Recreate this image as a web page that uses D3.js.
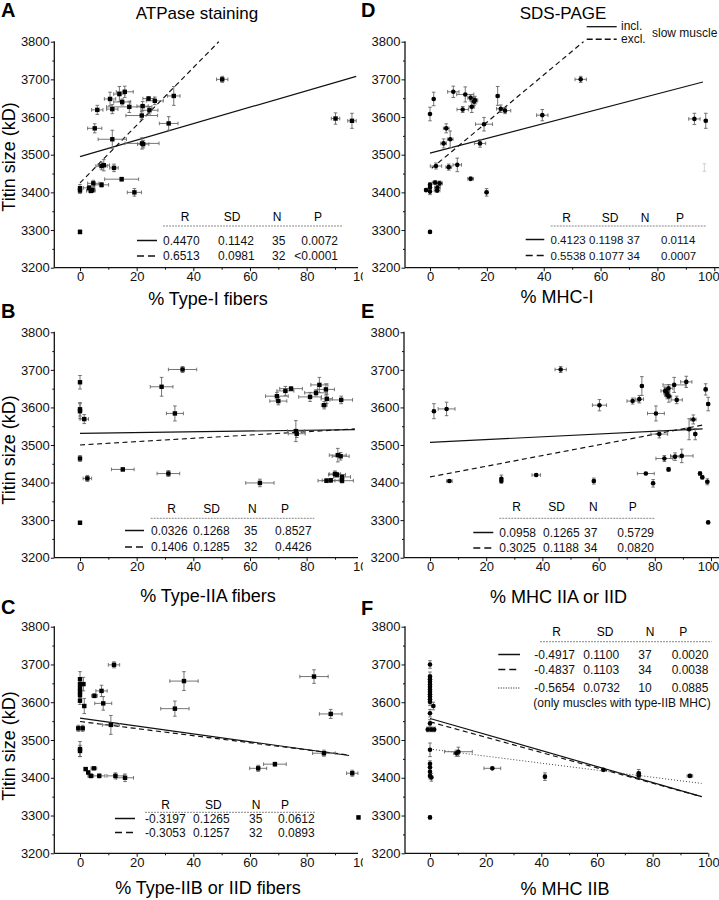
<!DOCTYPE html>
<html><head><meta charset="utf-8">
<script src="https://cdn.jsdelivr.net/npm/d3@7"></script>
<style>
body{margin:0;background:#fff}
svg{display:block}
text{font-family:"Liberation Sans",Arial,Helvetica,sans-serif}
</style>
</head><body>
<svg id="c" width="719" height="900"></svg>
<script>
// ---------- data ----------
const yTicks = [3200, 3300, 3400, 3500, 3600, 3700, 3800];
const yMinor = [3250, 3350, 3450, 3550, 3650, 3750];
const xTicks = [0, 20, 40, 60, 80, 100];
const xMinor = [10, 30, 50, 70, 90];
const statHeader = ["R", "SD", "N", "P"];

// points: [x, titin size, xErr, yErr]
const typeIFibers = [
  [0,3411,0,10],[0,3405,0,8],[0,3295,0,5],[3.2,3412,2,6],[3.8,3404,1.5,5],[4.3,3406,1,6],
  [4.7,3424,2,8],[7.6,3420,2.5,6],[7.6,3470,2,10],[8.4,3472,2,15],[12,3465,1.5,10],
  [14.7,3435,6,5],[19.2,3400,2.5,10],[5.2,3570,2.5,12],[6.1,3619,2,12],[11.4,3541,5,24],
  [10.6,3648,2,18],[11.4,3621,2,12],[13.9,3661,2,20],[14.9,3640,3,8],[15.8,3667,3,15],
  [17.4,3627,8,15],[21.8,3604,5.6,10],[22.1,3629,2,12],[21.9,3530,6,15],[22.3,3528,2,10],
  [24.2,3649,2,5],[24.5,3618,3,10],[26.4,3643,3,10],[31.3,3583,3.3,18],[33.1,3656,2.2,25],
  [50.2,3700,2,8],[90.2,3596,1.5,15],[96,3590,1.5,20]
];
const typeIIAFibers = [
  [0,3667,0,18],[0,3595,0,18],[0,3590,0,20],[1.5,3569,1.5,12],[0,3464,0,8],[2.6,3411,1.5,8],
  [0,3293,0,4],[15.1,3435,4,4],[31.2,3424,4,8],[28.8,3655,4,25],[36.2,3701,5,8],
  [33.5,3584,3,20],[63.5,3399,5,10],[69.5,3630,4,10],[70,3617,3,10],[72.5,3644,3,12],
  [74.5,3650,4,5],[81.2,3628,4,12],[84.5,3660,3,20],[83.3,3639,4,8],[86.8,3648,3,15],
  [87.1,3623,2,12],[86.2,3606,1,10],[92.2,3620,4,10],[76.2,3537,3,28],[76.5,3530,3,10],
  [91,3473,3,18],[92,3470,3,10],[87,3405,3,5],[88.5,3406,3,5],[90,3423,2,8],
  [90.7,3421,3,6],[92.5,3415,3,5],[92.5,3405,4,6]
];
const typeIIBFibers = [
  [0,3661,0,20],[0,3648,0,15],[0,3637,0,15],[0,3628,0,15],[0,3619,0,10],[1.2,3648,0.5,18],
  [0,3604,0,10],[1.5,3590,0.5,20],[-0.6,3531,0.5,8],[0.95,3531,0.5,8],[0,3476,0,20],
  [0,3471,0,15],[2,3423,0.5,4],[2.9,3414,0.5,4],[3.8,3405,1,5],[4.9,3425,1,3],
  [6.8,3405,2,5],[12.5,3405,3,8],[15.9,3400,3,10],[5.1,3617,1,5],[7.6,3630,2,15],
  [8.2,3597,3,18],[10.9,3540,3,25],[12,3699,2,8],[36.7,3656,5,25],[33.5,3583,5,20],
  [62.9,3425,3,8],[68.8,3436,4,5],[82.6,3668,5,18],[88.5,3569,4,12],[86.1,3465,4,8],
  [96.1,3412,2,8],[98.3,3295,0,4]
];
const mhcI = [
  [0,3608,0,18],[1.3,3648,0,18],[8.2,3667,2,15],[12.4,3660,3,20],[14.3,3651,1,8],
  [11.5,3620,2,8],[14.7,3627,1,15],[15.5,3641,1,10],[15.8,3645,1,10],[23.8,3656,0.5,25],
  [24.9,3622,1.5,10],[26.4,3617,2,8],[19,3581,3,18],[39.5,3605,2,15],[53,3700,2,8],
  [5.7,3570,1,12],[4.8,3530,1,12],[7.1,3541,1,22],[17.6,3530,2,10],[2.1,3470,2,8],
  [6.6,3467,1,8],[9.6,3473,1.5,18],[14.3,3436,1,5],[-1.4,3406,0,4],[0,3420,0,6],
  [0,3413,0,6],[0,3402,0,8],[1.8,3426,1,5],[2.6,3413,1,6],[3.4,3424,1,6],[2.5,3405,1,5],
  [19.9,3400,0.5,10],[0,3295,0,4],[93,3595,2,15],[97,3590,0.5,20]
];
const mhcIGhost = [[96.5,3466,0,10]];
const mhcIIAorIID = [
  [1.4,3590,0.5,20],[5.9,3596,3,18],[6.9,3404,1,4],[25.4,3410,0.3,10],[25.4,3404,0.3,6],
  [37.8,3420,1.5,4],[46.5,3701,2,8],[58.3,3404,0.5,8],[60.3,3606,2.5,15],[72.1,3617,2,8],
  [74.5,3622,1.5,10],[75.4,3657,0.5,25],[80.4,3584,3,20],[83.7,3644,1.5,10],[84.2,3640,1,10],
  [84.5,3633,1,10],[85,3629,1,15],[84.9,3651,1.5,10],[86.9,3660,4,20],[87.8,3620,2,10],
  [91.2,3668,2,15],[98.1,3648,0.5,15],[99,3609,0.5,18],[81.6,3529,3,10],[92.2,3542,1,28],
  [93.7,3568,1,12],[94.4,3529,0.5,15],[83.4,3464,3,8],[87.2,3469,1.5,10],[89.6,3471,4,18],
  [84.9,3435,0.5,5],[76.8,3424,3,3],[79.4,3398,0.5,10],[96.1,3424,0.5,5],[96.9,3414,0.5,5],
  [98.7,3402,0.5,8],[99,3294,0,3]
];
const mhcIIB = [
  [0,3700,0,10],[0,3668,0,12],[0,3661,0,12],[0,3654,0,12],[0,3647,0,12],[0,3641,0,12],
  [0,3634,0,12],[0,3628,0,12],[0,3621,0,12],[0,3615,0,12],[0,3608,0,12],[0,3601,0,10],
  [1.2,3590,0.5,10],[0,3571,0,10],[0,3544,0,10],[-0.8,3528,0,6],[0.4,3528,0,6],[1.5,3528,0,6],
  [0,3474,0,18],[0,3437,0,8],[0,3428,0,8],[0,3416,0,8],[0,3405,0,8],[0.5,3401,0,10],
  [0,3295,0,4],[10.2,3469,5,12],[9.5,3465,1,8],[22.4,3425,3,3],[41.3,3403,0.5,10],
  [62.3,3421,0.5,3],[75,3412,0.5,10],[75,3406,0.5,5],[93.4,3405,1,4]
];

// regression lines: [x0, y0, x1, y1]  (incl., excl., only IIB)
const fitsTypeI   = [[0,3495,97.5,3708],[0,3425,49,3800]];
const fitsTypeIIA = [[0,3531,97,3541],[0,3500,97,3543]];
const fitsTypeIIB = [[0,3558,95,3459],[0,3549,95,3460]];
const fitsMhcI    = [[0,3504,96,3693],[0.6,3464,54,3800]];
const fitsMhcIIA  = [[0,3507,97,3543],[0,3415,97,3553]];
const fitsMhcIIB  = [[0,3557,97.6,3350],[0,3548,97.6,3350],[0,3476,97.6,3385]];

// statistics tables
const statsTypeI   = [["0.4470","0.1142","35","0.0072"],["0.6513","0.0981","32","<0.0001"]];
const statsTypeIIA = [["0.0326","0.1268","35","0.8527"],["0.1406","0.1285","32","0.4426"]];
const statsTypeIIB = [["-0.3197","0.1265","35","0.0612"],["-0.3053","0.1257","32","0.0893"]];
const statsMhcI    = [["0.4123","0.1198","37","0.0114"],["0.5538","0.1077","34","0.0007"]];
const statsMhcIIA  = [["0.0958","0.1265","37","0.5729"],["0.3025","0.1188","34","0.0820"]];
const statsMhcIIB  = [["-0.4917","0.1100","37","0.0020"],["-0.4837","0.1103","34","0.0038"],["-0.5654","0.0732","10","0.0885"]];
const noteMhcIIB = "(only muscles with type-IIB MHC)";
const legendLabels = ["incl.", "excl.", "slow muscle"];

// ---------- drawing ----------
const svg = d3.select("#c");
const FONT = '"Liberation Sans",Arial,Helvetica,sans-serif';
const lineStyles = ["none", "5,3.5", "1,2"];

function drawPanel(p) {
  const g = svg.append("g");
  const x = d3.scaleLinear().domain([0, 100]).range([p.x0, p.x100]);
  const y = d3.scaleLinear().domain([3200, 3800]).range([p.yBot, p.yTop]);

  // letter & titles
  g.append("text").attr("x", p.letter[0]).attr("y", p.letter[1]).attr("font-size", 20)
    .attr("font-weight", "bold").text(p.letterText);
  if (p.title) g.append("text").attr("x", p.title[0]).attr("y", p.title[1]).attr("font-size", 17)
    .attr("text-anchor", "middle").text(p.titleText);
  g.append("text").attr("x", p.xTitle[0]).attr("y", p.xTitle[1]).attr("font-size", 18)
    .attr("text-anchor", "middle").text(p.xTitleText);
  if (p.yTitle) g.append("text").attr("transform", `translate(${p.yTitle[0]},${p.yTitle[1]}) rotate(-90)`)
    .attr("font-size", 18).attr("text-anchor", "middle").text("Titin size (kD)");

  // axes
  const yAx = g.append("g").attr("transform", `translate(${p.axisLeft},0)`)
    .call(d3.axisLeft(y).tickValues(yTicks).tickSize(3.5).tickSizeOuter(0).tickPadding(1).tickFormat(d3.format("d")));
  yAx.select(".domain").remove();
  g.append("g").attr("transform", `translate(${p.axisLeft},0)`)
    .call(d3.axisLeft(y).tickValues(yMinor).tickSize(2).tickFormat(""))
    .select(".domain").remove();
  const xAx = g.append("g").attr("transform", `translate(0,${p.yBot})`)
    .call(d3.axisBottom(x).tickValues(xTicks).tickSize(3.5).tickSizeOuter(0).tickPadding(0.5));
  xAx.select(".domain").remove();
  if (p.lastLabelShift) {
    xAx.selectAll(".tick").filter(d => d === 100).select("text").attr("dx", p.lastLabelShift);
  }
  g.append("g").attr("transform", `translate(0,${p.yBot})`)
    .call(d3.axisBottom(x).tickValues(xMinor).tickSize(2).tickFormat(""))
    .select(".domain").remove();
  g.selectAll(".tick text").attr("font-size", 13).attr("font-family", FONT).attr("fill", "#111");
  g.selectAll(".tick line").attr("stroke", "#111").attr("stroke-width", 1);
  g.append("line").attr("x1", p.axisLeft).attr("x2", p.axisLeft).attr("y1", p.yTop - 0.5).attr("y2", p.yBot)
    .attr("stroke", "#111").attr("stroke-width", 1.3);
  g.append("line").attr("x1", p.axisLeft).attr("x2", p.axisRight).attr("y1", p.yBot).attr("y2", p.yBot)
    .attr("stroke", "#111").attr("stroke-width", 1.3);

  // regression lines
  g.selectAll("line.fit").data(p.fits).join("line").attr("class", "fit")
    .attr("x1", d => x(d[0])).attr("y1", d => y(d[1])).attr("x2", d => x(d[2])).attr("y2", d => y(d[3]))
    .attr("stroke", (d, i) => i === 2 ? "#444" : "#111")
    .attr("stroke-width", (d, i) => i === 2 ? 1 : 1.2)
    .attr("stroke-dasharray", (d, i) => lineStyles[i]);

  // error bars
  function errBars(data, color) {
    const eb = g.append("g").attr("stroke", color).attr("stroke-width", 0.9).attr("fill", "none");
    const cap = 1.8;
    data.forEach(d => {
      const cx = x(d[0]), cy = y(d[1]);
      if (d[3] > 0) {
        const y1 = y(d[1] + d[3]), y2 = y(d[1] - d[3]);
        eb.append("line").attr("x1", cx).attr("x2", cx).attr("y1", y1).attr("y2", y2);
        eb.append("line").attr("x1", cx - cap).attr("x2", cx + cap).attr("y1", y1).attr("y2", y1);
        eb.append("line").attr("x1", cx - cap).attr("x2", cx + cap).attr("y1", y2).attr("y2", y2);
      }
      if (d[2] > 0) {
        const x1 = x(d[0] - d[2]), x2 = x(d[0] + d[2]);
        eb.append("line").attr("x1", x1).attr("x2", x2).attr("y1", cy).attr("y2", cy);
        eb.append("line").attr("x1", x1).attr("x2", x1).attr("y1", cy - cap).attr("y2", cy + cap);
        eb.append("line").attr("x1", x2).attr("x2", x2).attr("y1", cy - cap).attr("y2", cy + cap);
      }
    });
  }
  if (p.ghost) errBars(p.ghost, "#ccc");
  errBars(p.pts, "#666");

  // markers
  if (p.marker === "square") {
    g.selectAll("rect.pt").data(p.pts).join("rect").attr("class", "pt")
      .attr("x", d => x(d[0]) - 2.2).attr("y", d => y(d[1]) - 2.2)
      .attr("width", 4.4).attr("height", 4.4).attr("fill", "#000");
  } else {
    g.selectAll("circle.pt").data(p.pts).join("circle").attr("class", "pt")
      .attr("cx", d => x(d[0])).attr("cy", d => y(d[1])).attr("r", 2.3).attr("fill", "#000");
  }

  // table
  const t = p.table;
  const fs = t.fs || 12;
  g.selectAll("text.hdr").data(statHeader).join("text").attr("class", "hdr")
    .attr("x", (d, i) => t.hdrX[i]).attr("y", t.hdrY).attr("text-anchor", "middle")
    .attr("font-size", 12).text(d => d);
  g.append("line").attr("x1", t.rule[0]).attr("x2", t.rule[1]).attr("y1", t.ruleY).attr("y2", t.ruleY)
    .attr("stroke", "#888").attr("stroke-width", 1).attr("stroke-dasharray", "2,1");
  p.stats.forEach((row, r) => {
    const by = t.rowY[r];
    g.append("line").attr("x1", t.sample[0]).attr("x2", t.sample[1]).attr("y1", by - 4).attr("y2", by - 4)
      .attr("stroke", "#111").attr("stroke-width", r === 2 ? 1 : 1.5)
      .attr("stroke-dasharray", r === 1 ? "7,4" : (r === 2 ? "1,1.5" : "none"));
    row.forEach((v, c) => {
      g.append("text").attr("x", t.colX[c]).attr("y", by).attr("font-size", fs)
        .attr("text-anchor", t.colA[c]).attr("fill", "#111").text(v);
    });
  });
  if (t.note) g.append("text").attr("x", t.note[0]).attr("y", t.note[1]).attr("font-size", 12)
    .attr("fill", "#111").text(p.noteText);
  return g;
}

const left = [
  { letterText: "A", letter: [1, 17], title: [197, 19], titleText: "ATPase staining",
    xTitle: [208, 305], xTitleText: "% Type-I fibers", yTitle: [14.5, 157],
    x0: 80, x100: 363.3, axisLeft: 54.3, axisRight: 358, yTop: 41.7, yBot: 267.7,
    pts: typeIFibers, fits: fitsTypeI, stats: statsTypeI, marker: "square",
    table: { hdrX: [185, 232, 277, 318], hdrY: 221, rule: [163, 343], ruleY: 226,
      rowY: [244.5, 260], sample: [137, 157], colX: [163, 218, 272, 338], colA: ["start","start","start","end"] } },
  { letterText: "B", letter: [1, 318],
    xTitle: [208, 602], xTitleText: "% Type-IIA fibers", yTitle: [14.5, 450],
    x0: 80, x100: 363.3, axisLeft: 54.3, axisRight: 358, yTop: 332.3, yBot: 557.7,
    pts: typeIIAFibers, fits: fitsTypeIIA, stats: statsTypeIIA, marker: "square",
    table: { hdrX: [171.7, 211.7, 252.3, 285], hdrY: 513, rule: [150.7, 314.3], ruleY: 518.3,
      rowY: [534.5, 551], sample: [125, 144], colX: [151, 193, 244, 275], colA: ["start","start","start","start"] } },
  { letterText: "C", letter: [1, 614],
    xTitle: [208, 894], xTitleText: "% Type-IIB or IID fibers", yTitle: [14.5, 746],
    x0: 80, x100: 363.3, axisLeft: 54.3, axisRight: 358, yTop: 626.7, yBot: 853.3,
    pts: typeIIBFibers, fits: fitsTypeIIB, stats: statsTypeIIB, marker: "square",
    table: { hdrX: [165.7, 213.3, 256, 285], hdrY: 808.5, rule: [145, 316], ruleY: 812.3,
      rowY: [822.5, 836.5], sample: [115, 135], colX: [145, 193, 249, 278], colA: ["start","start","start","start"] } }
];
const right = [
  { letterText: "D", letter: [361, 17], title: [563, 19], titleText: "SDS-PAGE",
    xTitle: [557, 303], xTitleText: "% MHC-I", lastLabelShift: -6,
    x0: 430, x100: 714.3, axisLeft: 405, axisRight: 719, yTop: 41.7, yBot: 267.7,
    pts: mhcI, ghost: mhcIGhost, fits: fitsMhcI, stats: statsMhcI, marker: "circle",
    table: { fs: 11.5, hdrX: [566.7, 610, 645, 680], hdrY: 221.5, rule: [550.7, 706.7], ruleY: 226,
      rowY: [243.5, 259.5], sample: [525.7, 544.3], colX: [550.5, 589, 627, 661], colA: ["start","start","start","start"] } },
  { letterText: "E", letter: [361, 318],
    xTitle: [558.5, 603], xTitleText: "% MHC IIA or IID", lastLabelShift: -3,
    x0: 430, x100: 711, axisLeft: 404, axisRight: 719, yTop: 332.3, yBot: 557.7,
    pts: mhcIIAorIID, fits: fitsMhcIIA, stats: statsMhcIIA, marker: "circle",
    table: { hdrX: [516.7, 556.7, 593.3, 632.7], hdrY: 511, rule: [499.3, 655], ruleY: 518.3,
      rowY: [536.5, 552], sample: [473.3, 493.3], colX: [499.3, 543, 584, 617.3], colA: ["start","start","start","start"] } },
  { letterText: "F", letter: [361, 615],
    xTitle: [565, 895], xTitleText: "% MHC IIB",
    x0: 430, x100: 708.3, axisLeft: 405, axisRight: 708.3, yTop: 626.7, yBot: 853.3,
    pts: mhcIIB, fits: fitsMhcIIB, stats: statsMhcIIB, marker: "circle", noteText: noteMhcIIB,
    table: { hdrX: [556.7, 605, 650, 683.3], hdrY: 636, rule: [540, 711.7], ruleY: 641.7,
      rowY: [658.5, 673.5, 692], sample: [498.3, 520], colX: [534.3, 583.3, 638.3, 671.7],
      colA: ["start","start","start","start"], note: [533.3, 706.5] } }
];

left.forEach(drawPanel);
// right column sheet covers overflow of left panels
svg.append("rect").attr("x", 363).attr("y", 0).attr("width", 356).attr("height", 900).attr("fill", "#fff");
right.forEach(drawPanel);

// legend in D
const lg = svg.append("g").attr("font-size", 12).attr("fill", "#111");
lg.append("line").attr("x1", 586.7).attr("x2", 616.7).attr("y1", 26.7).attr("y2", 26.7)
  .attr("stroke", "#111").attr("stroke-width", 1.3);
lg.append("line").attr("x1", 586.7).attr("x2", 616.7).attr("y1", 39.3).attr("y2", 39.3)
  .attr("stroke", "#111").attr("stroke-width", 1.5).attr("stroke-dasharray", "6,3");
lg.append("text").attr("x", 621).attr("y", 30).text(legendLabels[0]);
lg.append("text").attr("x", 621).attr("y", 43).text(legendLabels[1]);
lg.append("text").attr("x", 652).attr("y", 37).text(legendLabels[2]);
</script>
</body></html>
